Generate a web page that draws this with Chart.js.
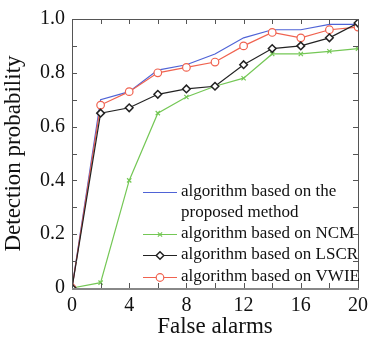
<!DOCTYPE html>
<html>
<head>
<meta charset="utf-8">
<script src="https://cdn.jsdelivr.net/npm/chart.js@4.4.0/dist/chart.umd.min.js"></script>
<style>
  body { margin: 0; background: #fff; }
  canvas { display: block; }
</style>
</head>
<body>
<canvas id="chart" width="374" height="337"></canvas>
<script>
// false alarms on the x axis
const falseAlarms = [0, 2, 4, 6, 8, 10, 12, 14, 16, 18, 20];

// detection probability
const proposed = [0, 0.70, 0.73, 0.81, 0.83, 0.87, 0.93, 0.96, 0.96, 0.98, 0.98];
const ncm = [0, 0.02, 0.40, 0.65, 0.71, 0.75, 0.78, 0.87, 0.87, 0.88, 0.89];
const lscr = [0, 0.65, 0.67, 0.72, 0.74, 0.75, 0.83, 0.89, 0.90, 0.93, 0.985];
const vwie = [0, 0.68, 0.73, 0.80, 0.82, 0.84, 0.90, 0.95, 0.93, 0.96, 0.97];

const seriesNames = [
  ["algorithm based on the", "proposed method"],
  ["algorithm based on NCM"],
  ["algorithm based on LSCR"],
  ["algorithm based on VWIE"]
];

const serif = "'Liberation Serif', 'DejaVu Serif', serif";
const toPoints = ys => ys.map((y, i) => ({ x: falseAlarms[i], y }));

let canvas = document.getElementById("chart");

// frame with inward ticks on all four sides
const framePlugin = {
  id: "frame",
  afterDatasetsDraw(chart) {
    const { ctx, chartArea: a, scales } = chart;
    ctx.save();
    ctx.strokeStyle = "#555";
    ctx.lineWidth = 1;
    ctx.beginPath();
    for (let v = 0; v <= 20; v += 2) {
      const px = Math.round(scales.x.getPixelForValue(v)) + 0.5;
      ctx.moveTo(px, a.bottom); ctx.lineTo(px, a.bottom - 5);
      ctx.moveTo(px, a.top); ctx.lineTo(px, a.top + 5);
    }
    for (let i = 0; i <= 10; i++) {
      const py = Math.round(scales.y.getPixelForValue(i / 10)) + 0.5;
      ctx.moveTo(a.left, py); ctx.lineTo(a.left + 5, py);
      ctx.moveTo(a.right, py); ctx.lineTo(a.right - 5, py);
    }
    ctx.stroke();
    ctx.strokeRect(Math.round(a.left) + 0.5, Math.round(a.top) + 0.5,
      Math.round(a.right - a.left), Math.round(a.bottom - a.top));
    ctx.strokeStyle = "#888";
    ctx.lineWidth = 2;
    ctx.beginPath();
    ctx.moveTo(a.left, Math.round(a.bottom) + 1);
    ctx.lineTo(a.right + 1, Math.round(a.bottom) + 1);
    ctx.stroke();
    ctx.restore();
  },
  afterDraw(chart) {
    // legend inside the plot, bottom right
    const ctx = chart.ctx;
    const rows = [192, 234, 255, 277];
    ctx.save();
    ctx.font = "17px " + serif;
    ctx.textBaseline = "middle";
    chart.data.datasets.forEach((ds, di) => {
      const y = rows[di];
      ctx.strokeStyle = ds.borderColor;
      ctx.lineWidth = 1;
      ctx.beginPath();
      ctx.moveTo(143, y + 0.5);
      ctx.lineTo(177, y + 0.5);
      ctx.stroke();
      if (ds.pointRadius > 0) {
        ctx.fillStyle = ds.pointBackgroundColor;
        ctx.strokeStyle = ds.borderColor;
        ctx.lineWidth = ds.pointBorderWidth;
        Chart.helpers.drawPoint(ctx, {
          pointStyle: ds.pointStyle,
          radius: ds.pointRadius,
          borderWidth: ds.pointBorderWidth
        }, 160, y + 0.5);
      }
      ctx.fillStyle = "#111";
      seriesNames[di].forEach((line, j) => {
        ctx.fillText(line, 181, y + j * 21);
      });
    });
    ctx.restore();
  }
};

let chart = new Chart(canvas, {
  type: "line",
  data: {
    datasets: [
      {
        label: seriesNames[0].join(" "),
        data: toPoints(proposed),
        borderColor: "#4f63d6",
        borderWidth: 1.2,
        pointRadius: 0,
        order: 4
      },
      {
        label: seriesNames[1].join(" "),
        data: toPoints(ncm),
        borderColor: "#74c755",
        borderWidth: 1.2,
        pointStyle: "crossRot",
        pointRadius: 3,
        pointBorderWidth: 1.2,
        pointBackgroundColor: "#74c755",
        order: 3
      },
      {
        label: seriesNames[2].join(" "),
        data: toPoints(lscr),
        borderColor: "#222",
        borderWidth: 1.2,
        pointStyle: "rectRot",
        pointRadius: 3.8,
        pointBorderWidth: 1.5,
        pointBackgroundColor: "#fff",
        order: 1
      },
      {
        label: seriesNames[3].join(" "),
        data: toPoints(vwie),
        borderColor: "#f0624f",
        borderWidth: 1.2,
        pointStyle: "circle",
        pointRadius: 3.8,
        pointBorderWidth: 1.2,
        pointBackgroundColor: "#fff",
        order: 2
      }
    ]
  },
  options: {
    responsive: false,
    animation: false,
    devicePixelRatio: 1,
    layout: { padding: { top: 14, right: 13, left: 0, bottom: 0 } },
    plugins: { legend: { display: false }, tooltip: { enabled: false } },
    scales: {
      x: {
        type: "linear",
        min: 0,
        max: 20,
        afterFit: s => { s.height = 49; },
        grid: { display: false, drawTicks: false },
        border: { display: false },
        ticks: {
          stepSize: 2,
          padding: 6,
          color: "#111",
          maxRotation: 0,
          autoSkip: false,
          font: { family: serif, size: 20 },
          callback: v => (v % 4 === 0 ? String(v) : "")
        },
        title: {
          display: true,
          text: "False alarms",
          color: "#111",
          font: { family: serif, size: 23 },
          padding: { top: 0, bottom: -4 }
        }
      },
      y: {
        min: 0,
        max: 1,
        afterFit: s => { s.width = 72; },
        grid: { display: false, drawTicks: false },
        border: { display: false },
        ticks: {
          stepSize: 0.1,
          padding: 7,
          color: "#111",
          autoSkip: false,
          font: { family: serif, size: 20 },
          callback: v => {
            const t = Math.round(v * 10);
            if (t % 2 !== 0) return "";
            if (t === 0) return "0";
            return (t / 10).toFixed(1);
          }
        },
        title: {
          display: true,
          text: "Detection probability",
          color: "#111",
          font: { family: serif, size: 23 },
          padding: { top: 0, bottom: 0 }
        }
      }
    }
  },
  plugins: [framePlugin]
});
</script>
</body>
</html>
